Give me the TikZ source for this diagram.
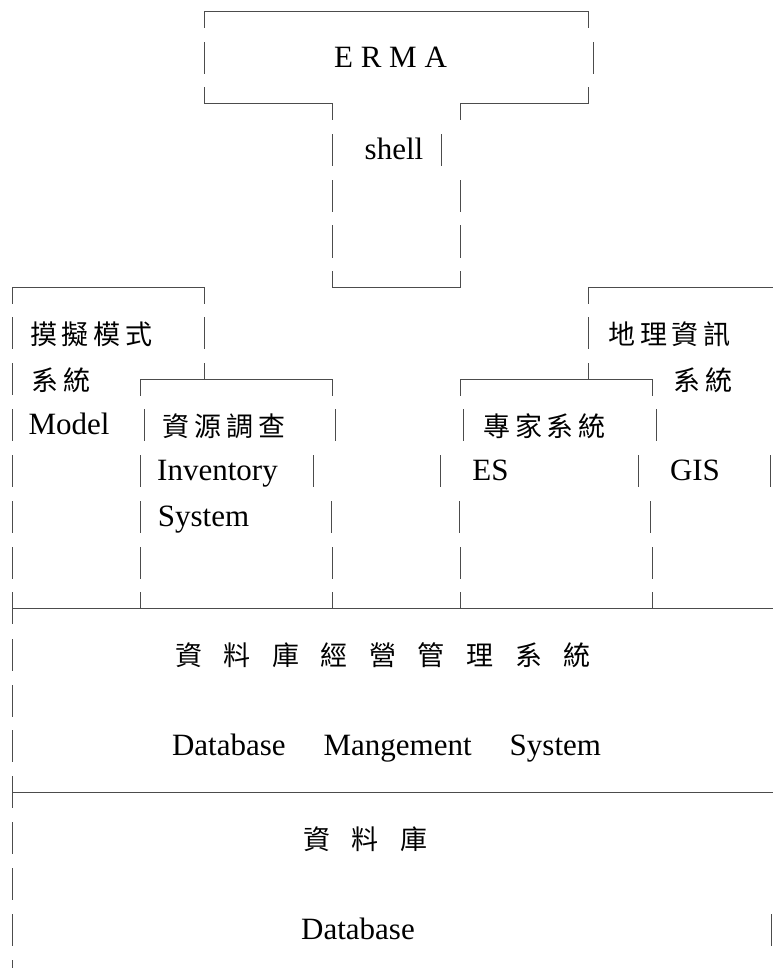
\documentclass[tikz,border=0pt]{standalone}
\usepackage{fontspec}
\setmainfont{Liberation Serif}
\newfontfamily\cjk{Noto Sans CJK TC}
\newcommand\zg{\hspace{5pt}}
\newcommand\zG{\hspace{21.5pt}}
\newcommand\ry[1]{(12+45.9*#1)}
\begin{document}
\begin{tikzpicture}[x=1pt, y=-1pt,
    seg/.style={line width=1pt, black!70, line cap=rect},
    en/.style={font=\fontsize{31}{31}\selectfont, inner sep=0pt, anchor=base},
    zh/.style={font=\cjk\fontsize{27}{27}\selectfont, inner sep=0pt, anchor=base}]
            \useasboundingbox (0,0) rectangle (772,968);
            % bars
            \foreach \x/\k in {204/1,593/1, 332/3,441/3, 332/4,460/4, 332/5,460/5,
                12/7,204/7,588/7, 12/8, 12/9,144/9,335/9,463/9,656/9,
                12/10,140/10,313/10,440/10,638/10,770/10,
                12/11,140/11,331/11,459/11,650/11, 12/12,140/12,332/12,460/12,652/12,
                12/14,12/15,12/16,12/18,12/19,12/20,771/20}
              \path[draw, seg](\x,{\ry{\k}-15.5})--++(0,31);
            \path[draw, seg](12,960.4)--(12,968);
            % corners
            \foreach \x/\k in {204/0,588/0, 332/2,460/2, 12/6,204/6,588/6, 140/8,332/8,460/8,652/8}
              \path[draw, seg](\x,{\ry{\k}})--++(0,16);
            \foreach \x/\k in {204/2,588/2, 332/6,460/6, 204/8,588/8, 140/13,332/13,460/13,652/13}
              \path[draw, seg](\x,{\ry{\k}})--++(0,-16);
            \foreach \k in {13,17}
              \path[draw, seg](12,{\ry{\k}-16})--++(0,31);
            % lines
            \foreach \a/\b/\k in {204/588/0, 204/332/2, 460/588/2, 332/460/6, 12/204/6, 588/772/6,
                140/332/8, 460/652/8, 12/772/13, 12/772/17}
              \path[draw, seg](\a,{\ry{\k}})--(\b,{\ry{\k}});
            % labels
            \node[en](erma)at(390.5,{\ry{1}+9.5}){E R M A};
            \node[en](shell)at(394,{\ry{3}+9.5}){shell};
            \node[zh](modelzh)at(91.5,{\ry{7}+11}){摸\zg 擬\zg 模\zg 式};
            \node[zh](modelzh2)at(61,{\ry{8}+11}){系\zg 統};
            \node[en](model)at(69,{\ry{9}+9.5}){Model};
            \node[zh](gisz)at(669.5,{\ry{7}+11}){地\zg 理\zg 資\zg 訊};
            \node[zh](gisz2)at(702.5,{\ry{8}+11}){系\zg 統};
            \node[en](gis)at(695,{\ry{10}+9.5}){GIS};
            \node[zh](invzh)at(224,{\ry{9}+11}){資\zg 源\zg 調\zg 查};
            \node[en](inv)at(217.5,{\ry{10}+9.5}){Inventory};
            \node[en](invsys)at(203.5,{\ry{11}+9.5}){System};
            \node[zh](eszh)at(544.5,{\ry{9}+11}){專\zg 家\zg 系\zg 統};
            \node[en](es)at(490.5,{\ry{10}+9.5}){ES};
            \node[zh](dbmszh)at(383,{\ry{14}+11}){資\zG 料\zG 庫\zG 經\zG 營\zG 管\zG 理\zG 系\zG 統};
            \node[en](dbms)at(386.5,{\ry{16}+9.5}){Database\hspace{38pt}Mangement\hspace{38pt}System};
            \node[zh](dbzh)at(365.5,{\ry{18}+11}){資\zG 料\zG 庫};
            \node[en](db)at(358,{\ry{20}+9.5}){Database};
        \end{tikzpicture}
\end{document}
